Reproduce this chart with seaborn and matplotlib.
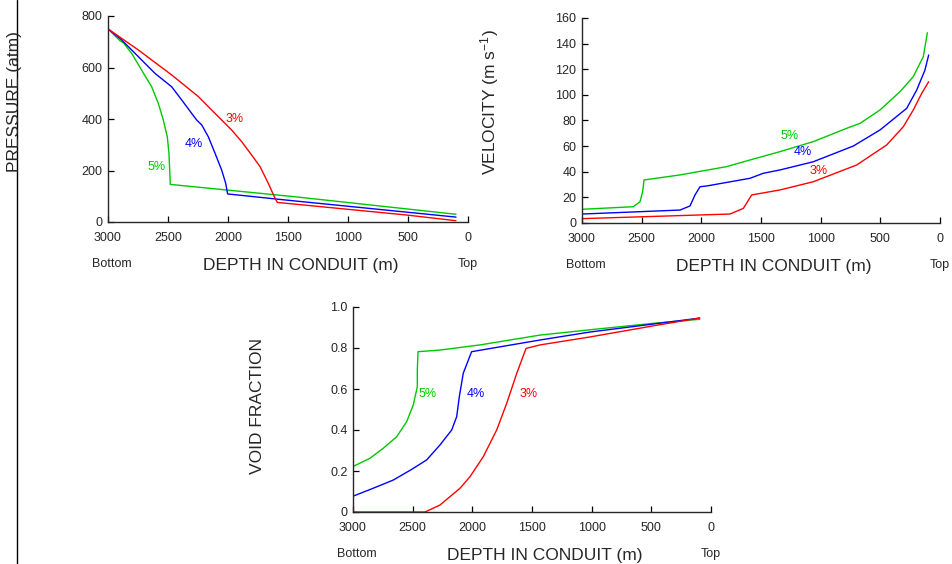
import pandas as pd
import seaborn as sns
import matplotlib.pyplot as plt
import matplotlib.ticker as mticker
from matplotlib.lines import Line2D

# pressure (atm) vs depth (m)
d_p5 = [3000, 2900, 2872, 2803, 2720, 2636, 2581, 2539, 2506, 2492, 2486, 2481, 1442, 100]
p5 = [750, 704, 696, 655, 590, 525, 461, 396, 331, 267, 202, 146, 98, 30]
d_p4 = [3000, 2886, 2747, 2608, 2469, 2386, 2303, 2261, 2219, 2164, 2108, 2053, 2019, 2003, 1511, 100]
p4 = [750, 707, 642, 577, 525, 474, 422, 396, 377, 331, 267, 202, 150, 109, 85, 19]
d_p3 = [3000, 2747, 2469, 2247, 2081, 1969, 1886, 1803, 1733, 1664, 1608, 1589, 509, 100]
p3 = [750, 668, 571, 487, 409, 357, 312, 260, 215, 150, 92, 76, 27, 5]

# velocity (m/s)
d_v5 = [3000, 2570, 2514, 2492, 2480, 2179, 1788, 1592, 1341, 1062, 782, 670, 503, 335, 224, 140, 106]
v5 = [10.7, 12.7, 16.6, 24.4, 33.6, 37.5, 44, 49.2, 55.7, 63.5, 73.9, 77.8, 88.2, 102.5, 114.2, 129.8, 148.5]
d_v4 = [3000, 2179, 2095, 2053, 2011, 1955, 1592, 1481, 1341, 1062, 726, 503, 279, 195, 126, 95]
v4 = [7.0, 10.1, 13.3, 21.9, 28.3, 28.9, 34.9, 38.8, 41.4, 47.8, 60.1, 72.6, 89.5, 103.8, 119.4, 131.1]
d_v3 = [3000, 1760, 1648, 1578, 1341, 1062, 698, 447, 307, 224, 153, 95]
v3 = [3.4, 7.0, 11.4, 21.9, 25.8, 32.2, 45.3, 60.9, 75.2, 88.2, 101.2, 110.3]

# void fraction
d_a5 = [3000, 2858, 2746, 2634, 2550, 2495, 2461, 2461, 2455, 2271, 1936, 1433, 1013, 455, 95]
a5 = [0.222, 0.262, 0.311, 0.367, 0.441, 0.522, 0.611, 0.693, 0.782, 0.790, 0.815, 0.863, 0.889, 0.922, 0.94]
d_a4 = [3000, 2830, 2662, 2508, 2383, 2271, 2173, 2131, 2109, 2076, 2006, 1433, 1013, 455, 95]
a4 = [0.077, 0.116, 0.156, 0.208, 0.254, 0.327, 0.4, 0.465, 0.563, 0.677, 0.782, 0.839, 0.878, 0.919, 0.946]
d_a3 = [3000, 2397, 2271, 2103, 2020, 1908, 1796, 1712, 1628, 1550, 1433, 1013, 455, 95]
a3 = [0, 0, 0.034, 0.116, 0.172, 0.27, 0.4, 0.53, 0.676, 0.798, 0.815, 0.854, 0.911, 0.946]

gas = ['5%', '4%', '3%']
colors = {'5%': '#00c800', '4%': '#0000ff', '3%': '#ff0000'}

def long_df(pairs):
    frames = []
    for g, (d, v) in zip(gas, pairs):
        frames.append(pd.DataFrame({'depth': d, 'value': v, 'gas': g}))
    return pd.concat(frames, ignore_index=True)

df_p = long_df([(d_p5, p5), (d_p4, p4), (d_p3, p3)])
df_v = long_df([(d_v5, v5), (d_v4, v4), (d_v3, v3)])
df_a = long_df([(d_a5, a5), (d_a4, a4), (d_a3, a3)])

sns.set_style("ticks")
plt.rcParams['font.family'] = ['Liberation Sans', 'DejaVu Sans']
plt.rcParams['mathtext.default'] = 'regular'

fig = plt.figure(figsize=(9.53, 5.64), dpi=100)
W, H = 953, 564

def make_ax(x0, x1, ytop, ybot):
    return fig.add_axes([x0 / W, 1 - ybot / H, (x1 - x0) / W, (ybot - ytop) / H])

ax1 = make_ax(108, 468, 16, 222)
ax2 = make_ax(582, 940, 18, 223)
ax3 = make_ax(353, 711, 307, 512)

for ax, df in [(ax1, df_p), (ax2, df_v), (ax3, df_a)]:
    sns.lineplot(data=df, x='depth', y='value', hue='gas', palette=colors,
                 sort=False, estimator=None, legend=False, lw=1.0, ax=ax)
    ax.set_xlim(3000, 0)
    ax.xaxis.set_major_locator(mticker.MultipleLocator(500))
    ax.set_xlabel('')
    ax.set_ylabel('')
    sns.despine(ax=ax)
    for s in ['left', 'bottom']:
        ax.spines[s].set_linewidth(1.0)
    ax.tick_params(direction='in', length=4, width=0.9, labelsize=9, color='black')
    ax.tick_params(axis='x', pad=7)
    ax.tick_params(axis='y', pad=4)
    ax.text(0.01, -0.205, 'Bottom', transform=ax.transAxes, ha='center', va='center', fontsize=9)
    ax.text(1.0, -0.205, 'Top', transform=ax.transAxes, ha='center', va='center', fontsize=9)
    ax.text(0.535, -0.21, 'DEPTH IN CONDUIT (m)', transform=ax.transAxes,
            ha='center', va='center', fontsize=12.5)

ax1.set_ylim(0, 800)
ax1.yaxis.set_major_locator(mticker.MultipleLocator(200))
ax2.set_ylim(0, 160)
ax2.yaxis.set_major_locator(mticker.MultipleLocator(20))
ax3.set_ylim(0, 1.0)
ax3.yaxis.set_major_locator(mticker.MultipleLocator(0.2))
ax3.yaxis.set_major_formatter(mticker.FuncFormatter(lambda v, p: '0' if abs(v) < 1e-9 else f'{v:.1f}'))

# curve labels
for ax, pos in [(ax1, {'3%': (1943, 400), '4%': (2282, 302), '5%': (2596, 214)}),
                (ax2, {'5%': (1264, 67.6), '4%': (1147, 55.2), '3%': (1021, 40.8)}),
                (ax3, {'5%': (2375, 0.577), '4%': (1973, 0.577), '3%': (1526, 0.577)})]:
    for g, (x, y) in pos.items():
        ax.text(x, y, g, color=colors[g], ha='center', va='center', fontsize=9)

fig.text(15 / W, 1 - 102 / H, 'PRESSURE (atm)', rotation=90, ha='center', va='center', fontsize=12.5)
fig.text(490 / W, 1 - 102 / H, 'VELOCITY (m s$^{-1}$)', rotation=90, ha='center', va='center', fontsize=12.5)
fig.text(257 / W, 1 - 406 / H, 'VOID FRACTION', rotation=90, ha='center', va='center', fontsize=12.5)

fig.add_artist(Line2D([17.3 / W, 17.3 / W], [0, 1], color='black', lw=1.0))

fig.savefig('out.png', dpi=100)
